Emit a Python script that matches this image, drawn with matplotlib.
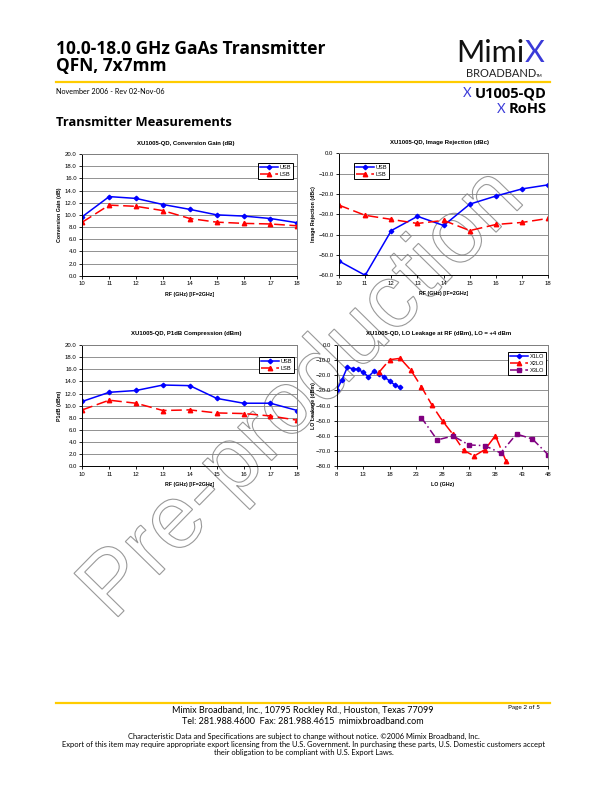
import matplotlib
matplotlib.use('Agg')
import matplotlib.pyplot as plt
from matplotlib.textpath import TextPath
from matplotlib.patches import PathPatch
from matplotlib.font_manager import FontProperties
from matplotlib.transforms import Affine2D

plt.rcParams['font.family'] = ['Liberation Sans', 'DejaVu Sans']

W, H = 612, 792

# ---- data
rf = [10, 11, 12, 13, 14, 15, 16, 17, 18]
gain_usb = [9.7, 13.0, 12.7, 11.7, 10.9, 10.0, 9.8, 9.4, 8.7]
gain_lsb = [8.8, 11.6, 11.4, 10.7, 9.4, 8.8, 8.6, 8.5, 8.2]

rej_usb = [-53.0, -60.0, -38.0, -31.0, -35.5, -25.0, -21.0, -17.5, -15.5]
rej_lsb = [-25.5, -30.5, -32.5, -34.5, -33.0, -38.0, -35.0, -34.0, -32.0]

p1_usb = [10.7, 12.2, 12.5, 13.4, 13.3, 11.2, 10.4, 10.4, 9.2]
p1_lsb = [9.3, 10.9, 10.4, 9.2, 9.3, 8.8, 8.7, 8.3, 7.6]

lo1_f = [8, 9, 10, 11, 12, 13, 14, 15, 16, 17, 18, 19, 20]
lo1_v = [-29.7, -23.0, -14.7, -15.6, -16.0, -18.0, -20.9, -17.4, -19.1, -21.1, -23.7, -26.4, -27.9]
lo2_f = [16, 18, 20, 22, 24, 26, 28, 30, 32, 34, 36, 38, 40]
lo2_v = [-18.0, -9.7, -8.8, -16.5, -27.5, -39.6, -50.1, -59.0, -69.5, -73.2, -69.0, -59.8, -76.5]
lo3_f = [24, 27, 30, 33, 36, 39, 42, 45, 48]
lo3_v = [-47.9, -62.6, -60.0, -65.9, -66.4, -71.2, -58.7, -62.0, -72.5]

lo_ticks = [8, 13, 18, 23, 28, 33, 38, 43, 48]

fig = plt.figure(figsize=(6.12, 7.92), dpi=100)


def ftext(x, y, s, **kw):
    fig.text(x / W, 1 - y / H, s, **kw)


def hline(x0, x1, y, **kw):
    fig.add_artist(plt.Line2D([x0 / W, x1 / W], [1 - y / H, 1 - y / H],
                              transform=fig.transFigure, **kw))


# ---- watermark (outlined text behind the charts)
tp = TextPath((0, 0), "Pre-production", size=90,
              prop=FontProperties(family='Liberation Sans'))
tr = Affine2D().rotate_deg(45.5).translate(113, H - 622).scale(1 / W, 1 / H) + fig.transFigure
fig.add_artist(PathPatch(tp, transform=tr, facecolor='none', edgecolor='#999999',
                         lw=0.8, zorder=-5))

# ---- header
hf = 'Lato'
bf = 'Open Sans'
ftext(56, 54, "10.0-18.0 GHz GaAs Transmitter", family=bf, fontsize=12.5,
      fontweight='bold', va='baseline')
ftext(56, 71.5, "QFN, 7x7mm", family=bf, fontsize=12.5, fontweight='bold', va='baseline')
hline(56, 550, 81.7, color='#FFCC00', lw=1.6)
ftext(56, 91, "November 2006 - Rev 02-Nov-06", family=hf, fontsize=5.2, va='center')
ftext(56, 126.5, "Transmitter Measurements", family=bf, fontsize=9.3,
      fontweight='bold', va='baseline')

ftext(524, 62, "Mimi", family=hf, fontsize=22, ha='right', va='baseline', color='#111111')
ftext(525, 62, "X", family=hf, fontsize=22, color='#3a3ad8', va='baseline')
ftext(466, 77, "BROADBAND", family=hf, fontsize=8, va='baseline', color='#222222')
ftext(536, 77, "TM", family=hf, fontsize=3.2, va='baseline')

ftext(547, 93, "U1005-QD", family=bf, fontsize=10.5, fontweight='bold', ha='right', va='center')
ftext(463, 93, "X", family=hf, fontsize=9.5, color='#3a3ad8', va='center')
ftext(547, 109, "RoHS", family=bf, fontsize=10.5, fontweight='bold', ha='right', va='center')
ftext(497, 109, "X", family=hf, fontsize=9.5, color='#3a3ad8', va='center')


# ---- charts
def chart(l, r, t, b, title, ylabel, xlabel, ylx):
    ax = fig.add_axes([l / W, 1 - b / H, (r - l) / W, (b - t) / H])
    ax.set_facecolor('none')
    ax.grid(axis='y', color='#808080', lw=0.6)
    ax.set_axisbelow(True)
    for s in ax.spines.values():
        s.set_linewidth(0.7)
    ax.spines['top'].set_color('#808080')
    ax.spines['right'].set_color('#808080')
    ax.tick_params(labelsize=4.3, length=2, width=0.6, pad=2)
    ax.yaxis.set_major_formatter('{x:.1f}')
    ftext((l + r) / 2 - 4, t - 11, title, ha='center', va='center', fontsize=4.3,
          fontweight='bold')
    ftext((l + r) / 2, b + 18.5, xlabel, ha='center', va='center', fontsize=3.8,
          fontweight='bold')
    ftext(ylx, (t + b) / 2, ylabel, ha='center', va='center', rotation=90,
          fontsize=3.8, fontweight='bold')
    return ax


def legend(ax, x, y):
    ax.legend(loc='upper left', bbox_to_anchor=(x / W, 1 - y / H),
              bbox_transform=fig.transFigure, fontsize=4.1, frameon=True,
              fancybox=False, framealpha=1, edgecolor='black', borderpad=0.35,
              labelspacing=0.35, handlelength=3.2, handletextpad=0.3,
              borderaxespad=0).get_frame().set_linewidth(0.7)


usb = dict(color='#0000ff', lw=1.1, marker='D', ms=2.3)
lsb = dict(color='#ff0000', lw=1.1, ls=(0, (7, 3)), marker='^', ms=3.2)

ax1 = chart(82.3, 297.3, 154, 275.7, "XU1005-QD, Conversion Gain (dB)",
            "Conversion Gain (dB)", "RF (GHz) [IF=2GHz]", 60)
ax1.plot(rf, gain_usb, label='USB', **usb)
ax1.plot(rf, gain_lsb, label='LSB', **lsb)
ax1.set_xlim(10, 18)
ax1.set_ylim(0, 20)
ax1.set_yticks(range(0, 21, 2))
legend(ax1, 258, 163)

ax2 = chart(339, 548.3, 153.3, 275.3, "XU1005-QD, Image Rejection (dBc)",
            "Image Rejection (dBc)", "RF (GHz) [IF=2GHz]", 314)
ax2.plot(rf, rej_usb, label='USB', **usb)
ax2.plot(rf, rej_lsb, label='LSB', **lsb)
ax2.set_xlim(10, 18)
ax2.set_ylim(-60, 0)
ax2.set_yticks(range(-60, 1, 10))
legend(ax2, 354, 163)

ax3 = chart(82.3, 297.3, 345, 466.3, "XU1005-QD, P1dB Compression (dBm)",
            "P1dB (dBm)", "RF (GHz) [IF=2GHz]", 60)
ax3.plot(rf, p1_usb, label='USB', **usb)
ax3.plot(rf, p1_lsb, label='LSB', **lsb)
ax3.set_xlim(10, 18)
ax3.set_ylim(0, 20)
ax3.set_yticks(range(0, 21, 2))
legend(ax3, 259, 357)

ax4 = chart(336.7, 548.3, 345, 466.3, "XU1005-QD, LO Leakage at RF (dBm), LO = +4 dBm",
            "LO Leakage (dBm)", "LO (GHz)", 313)
ax4.plot(lo1_f, lo1_v, label='X1LO', **usb)
ax4.plot(lo2_f, lo2_v, label='X2LO', **lsb)
ax4.plot(lo3_f, lo3_v, label='X3LO', color='#800080', lw=1.1,
         ls=(0, (5, 2, 1, 2)), marker='s', ms=3)
ax4.set_xlim(8, 48)
ax4.set_xticks(lo_ticks)
ax4.set_ylim(-80, 0)
ax4.set_yticks(range(-80, 1, 10))
legend(ax4, 508, 352)

# ---- footer
hline(56, 550, 702.8, color='#FFCC00', lw=1.6)
ftext(303, 710.7, "Mimix Broadband, Inc., 10795 Rockley Rd., Houston, Texas 77099",
      family=hf, fontsize=6.5, ha='center', va='center')
ftext(303, 722, "Tel: 281.988.4600  Fax: 281.988.4615  mimixbroadband.com",
      family=hf, fontsize=6.5, ha='center', va='center')
ftext(508, 708, "Page 2 of 5", family=hf, fontsize=4.6, va='center')
ftext(304, 736.5, "Characteristic Data and Specifications are subject to change without notice. \u00a92006 Mimix Broadband, Inc.",
      family=hf, fontsize=5.4, ha='center', va='center')
ftext(304, 744.5, "Export of this item may require appropriate export licensing from the U.S. Government. In purchasing these parts, U.S. Domestic customers accept",
      family=hf, fontsize=5.4, ha='center', va='center')
ftext(304, 752, "their obligation to be compliant with U.S. Export Laws.",
      family=hf, fontsize=5.4, ha='center', va='center')

fig.savefig('out.png', dpi=100)
